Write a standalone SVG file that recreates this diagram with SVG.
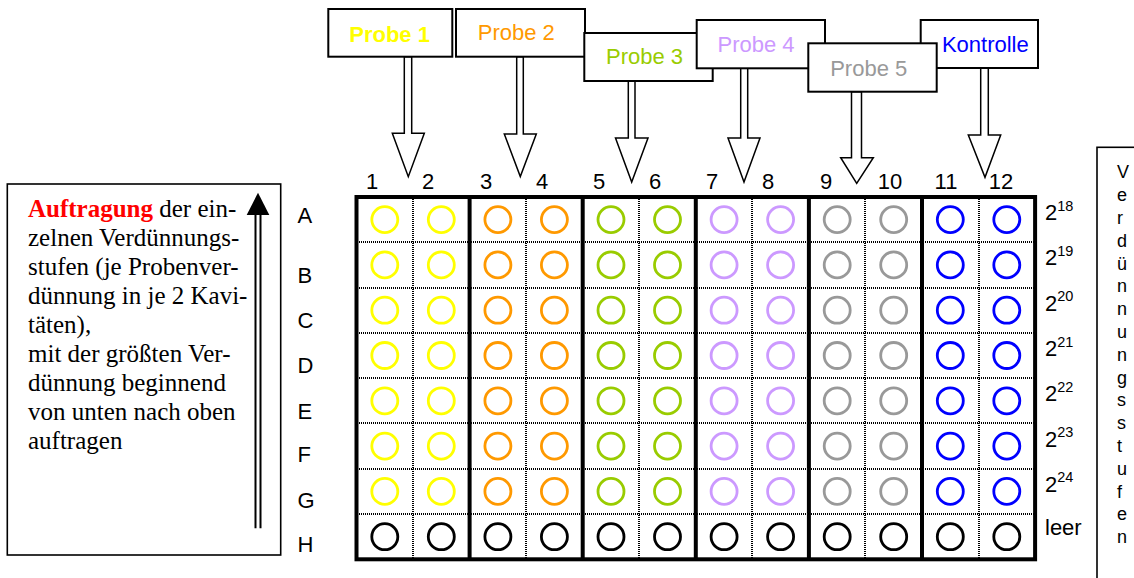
<svg xmlns="http://www.w3.org/2000/svg" width="1134" height="578" viewBox="0 0 1134 578">
  <style>
    .sans { font-family: "Liberation Sans", Arial, Helvetica, sans-serif; }
    .serif { font-family: "Liberation Serif", "Times New Roman", serif; }
    .lbl { font-size: 22px; fill: #000; }
    .box { fill: #fff; stroke: #000; stroke-width: 2; }
    .probe { font-size: 22px; text-anchor: middle; }
    .arrow { fill: #fff; stroke: #000; stroke-width: 1.5; stroke-linejoin: miter; }
    .dot { stroke: #000; stroke-width: 2; stroke-dasharray: 1 1; fill: none; shape-rendering: crispEdges; }
    .thick { stroke: #000; stroke-width: 4; fill: none; }
    .well { fill: none; stroke-width: 2.8; }
    .c1 { stroke: #ffff00; }
    .c2 { stroke: #ff9900; }
    .c3 { stroke: #99cc00; }
    .c4 { stroke: #cc99ff; }
    .c5 { stroke: #999999; }
    .c6 { stroke: #0000ff; }
    .c0 { stroke: #000000; }
  </style>
  <defs>
    <circle id="w" r="13" cx="0" cy="0"/>
  </defs>

  <rect width="1134" height="578" fill="#fff"/>

  <!-- block arrows from the sample labels down to the plate columns -->
  <g id="connectors">
    <polygon class="arrow" points="404.3,56.7 411.7,56.7 411.7,133.3 424.3,133.3 408.3,176.7 392.3,133.3 404.3,133.3"/>
    <polygon class="arrow" points="516.7,56.7 523.3,56.7 523.3,134 536.3,134 520.3,176.5 504.3,134 516.7,134"/>
    <polygon class="arrow" points="628.3,81 635,81 635,138 648,138 631.7,182 615.5,138 628.3,138"/>
    <polygon class="arrow" points="740.7,68.3 747.7,68.3 747.7,138 760,138 744,182 728,138 740.7,138"/>
    <polygon class="arrow" points="851.5,91.7 861.5,91.7 861.5,157.7 873.3,157.7 856.7,183.3 840.7,157.7 851.5,157.7"/>
    <polygon class="arrow" points="980.7,68 988.3,68 988.3,135 1000.7,135 985,177.3 968.3,135 980.7,135"/>
  </g>

  <!-- sample label boxes -->
  <g id="probe1">
    <rect class="box" x="328.3" y="9" width="124" height="47.7"/>
    <text class="sans probe" x="389.6" y="41.7" fill="#ffff00" font-weight="bold">Probe 1</text>
  </g>
  <g id="probe2">
    <rect class="box" x="456" y="9" width="129" height="47.7"/>
    <text class="sans probe" x="516.3" y="40" fill="#ff9900">Probe 2</text>
  </g>
  <g id="probe3">
    <rect class="box" x="584.3" y="33" width="128.4" height="48"/>
    <text class="sans probe" x="644.5" y="64" fill="#99cc00">Probe 3</text>
  </g>
  <g id="probe4">
    <rect class="box" x="696.7" y="20" width="128.3" height="48.3"/>
    <text class="sans probe" x="756" y="51.7" fill="#cc99ff">Probe 4</text>
  </g>
  <g id="kontrolle">
    <rect class="box" x="920.7" y="20" width="117.3" height="48"/>
    <text class="sans probe" x="985.3" y="51.7" fill="#0000ff">Kontrolle</text>
  </g>
  <g id="probe5">
    <rect class="box" x="808.3" y="43.3" width="128.4" height="48.4"/>
    <text class="sans probe" x="868.7" y="76" fill="#999999">Probe 5</text>
  </g>

  <!-- explanatory text box with upward arrow -->
  <g id="legend">
    <rect x="7.3" y="184" width="273.4" height="371" fill="#fff" stroke="#000" stroke-width="1.6"/>
    <g class="serif" font-size="25" fill="#000">
      <text x="28" y="216.5"><tspan fill="#ff0000" font-weight="bold">Auftragung</tspan> der ein-</text>
      <text x="28" y="245.5">zelnen Verdünnungs-</text>
      <text x="28" y="274.5">stufen (je Probenver-</text>
      <text x="28" y="303.5">dünnung in je 2 Kavi-</text>
      <text x="28" y="332.5">täten),</text>
      <text x="28" y="361.5">mit der größten Ver-</text>
      <text x="28" y="390.5">dünnung beginnend</text>
      <text x="28" y="419.5">von unten nach oben</text>
      <text x="28" y="448.5">auftragen</text>
    </g>
    <line x1="255.5" y1="214" x2="255.5" y2="528.3" stroke="#000" stroke-width="2"/>
    <line x1="260.5" y1="214" x2="260.5" y2="528.3" stroke="#000" stroke-width="2"/>
    <polygon points="246.7,215 269.3,215 258,192.7" fill="#000"/>
  </g>

  <!-- column numbers -->
  <g id="columns" class="sans lbl" text-anchor="middle">
    <text x="372" y="189">1</text>
    <text x="428" y="189">2</text>
    <text x="486" y="189">3</text>
    <text x="542" y="189">4</text>
    <text x="599" y="189">5</text>
    <text x="655" y="189">6</text>
    <text x="712" y="189">7</text>
    <text x="768" y="189">8</text>
    <text x="826" y="189">9</text>
    <text x="890" y="189">10</text>
    <text x="946" y="189">11</text>
    <text x="1001" y="189">12</text>
  </g>

  <!-- row letters -->
  <g id="rows" class="sans lbl">
    <text x="297.5" y="223">A</text>
    <text x="297.5" y="283">B</text>
    <text x="297.5" y="328">C</text>
    <text x="297.5" y="373">D</text>
    <text x="297.5" y="419">E</text>
    <text x="297.5" y="462">F</text>
    <text x="297.5" y="508">G</text>
    <text x="297.5" y="551.7">H</text>
  </g>

  <!-- dilution steps -->
  <g id="dilutions" class="sans lbl">
    <text x="1045" y="220">2<tspan dy="-9.5" font-size="14.5">18</tspan></text>
    <text x="1045" y="265.4">2<tspan dy="-9.5" font-size="14.5">19</tspan></text>
    <text x="1045" y="310.7">2<tspan dy="-9.5" font-size="14.5">20</tspan></text>
    <text x="1045" y="356">2<tspan dy="-9.5" font-size="14.5">21</tspan></text>
    <text x="1045" y="401.3">2<tspan dy="-9.5" font-size="14.5">22</tspan></text>
    <text x="1045" y="446.6">2<tspan dy="-9.5" font-size="14.5">23</tspan></text>
    <text x="1045" y="491.9">2<tspan dy="-9.5" font-size="14.5">24</tspan></text>
    <text x="1045" y="535">leer</text>
  </g>

  <!-- vertical caption box -->
  <g id="caption">
    <rect x="1097" y="147.3" width="60" height="450" fill="#fff" stroke="#000" stroke-width="1.6"/>
    <g class="sans" font-size="18" fill="#000">
      <text x="1117" y="178.3">V</text>
      <text x="1117" y="201.1">e</text>
      <text x="1117" y="223.9">r</text>
      <text x="1117" y="246.7">d</text>
      <text x="1117" y="269.5">ü</text>
      <text x="1117" y="292.3">n</text>
      <text x="1117" y="315.1">n</text>
      <text x="1117" y="337.9">u</text>
      <text x="1117" y="360.7">n</text>
      <text x="1117" y="383.5">g</text>
      <text x="1117" y="406.3">s</text>
      <text x="1117" y="429.1">s</text>
      <text x="1117" y="451.9">t</text>
      <text x="1117" y="474.7">u</text>
      <text x="1117" y="497.5">f</text>
      <text x="1117" y="520.3">e</text>
      <text x="1117" y="543.1">n</text>
    </g>
  </g>

  <!-- 96-well plate -->
  <g id="plate">
    <rect x="356.5" y="197" width="678.6" height="362.3" fill="#fff"/>
    <g class="dot">
      <line x1="357" y1="242" x2="1035" y2="242"/>
      <line x1="357" y1="288" x2="1035" y2="288"/>
      <line x1="357" y1="333" x2="1035" y2="333"/>
      <line x1="357" y1="378" x2="1035" y2="378"/>
      <line x1="357" y1="423" x2="1035" y2="423"/>
      <line x1="357" y1="469" x2="1035" y2="469"/>
      <line x1="357" y1="514" x2="1035" y2="514"/>
      <line x1="413" y1="197" x2="413" y2="559"/>
      <line x1="526" y1="197" x2="526" y2="559"/>
      <line x1="639" y1="197" x2="639" y2="559"/>
      <line x1="752" y1="197" x2="752" y2="559"/>
      <line x1="865" y1="197" x2="865" y2="559"/>
      <line x1="979" y1="197" x2="979" y2="559"/>
    </g>
    <g class="thick">
      <line x1="469.6" y1="197" x2="469.6" y2="559.3"/>
      <line x1="582.7" y1="197" x2="582.7" y2="559.3"/>
      <line x1="695.8" y1="197" x2="695.8" y2="559.3"/>
      <line x1="808.9" y1="197" x2="808.9" y2="559.3"/>
      <line x1="922" y1="197" x2="922" y2="559.3"/>
      <rect x="356.5" y="197" width="678.6" height="362.3"/>
    </g>

    <!-- wells: one group per sample pair, rows A-G coloured -->
    <g class="well c1">
      <use href="#w" x="384.8" y="219.6"/><use href="#w" x="441.3" y="219.6"/>
      <use href="#w" x="384.8" y="264.9"/><use href="#w" x="441.3" y="264.9"/>
      <use href="#w" x="384.8" y="310.2"/><use href="#w" x="441.3" y="310.2"/>
      <use href="#w" x="384.8" y="355.5"/><use href="#w" x="441.3" y="355.5"/>
      <use href="#w" x="384.8" y="400.8"/><use href="#w" x="441.3" y="400.8"/>
      <use href="#w" x="384.8" y="446.1"/><use href="#w" x="441.3" y="446.1"/>
      <use href="#w" x="384.8" y="491.4"/><use href="#w" x="441.3" y="491.4"/>
    </g>
    <g class="well c2">
      <use href="#w" x="497.9" y="219.6"/><use href="#w" x="554.4" y="219.6"/>
      <use href="#w" x="497.9" y="264.9"/><use href="#w" x="554.4" y="264.9"/>
      <use href="#w" x="497.9" y="310.2"/><use href="#w" x="554.4" y="310.2"/>
      <use href="#w" x="497.9" y="355.5"/><use href="#w" x="554.4" y="355.5"/>
      <use href="#w" x="497.9" y="400.8"/><use href="#w" x="554.4" y="400.8"/>
      <use href="#w" x="497.9" y="446.1"/><use href="#w" x="554.4" y="446.1"/>
      <use href="#w" x="497.9" y="491.4"/><use href="#w" x="554.4" y="491.4"/>
    </g>
    <g class="well c3">
      <use href="#w" x="611" y="219.6"/><use href="#w" x="667.5" y="219.6"/>
      <use href="#w" x="611" y="264.9"/><use href="#w" x="667.5" y="264.9"/>
      <use href="#w" x="611" y="310.2"/><use href="#w" x="667.5" y="310.2"/>
      <use href="#w" x="611" y="355.5"/><use href="#w" x="667.5" y="355.5"/>
      <use href="#w" x="611" y="400.8"/><use href="#w" x="667.5" y="400.8"/>
      <use href="#w" x="611" y="446.1"/><use href="#w" x="667.5" y="446.1"/>
      <use href="#w" x="611" y="491.4"/><use href="#w" x="667.5" y="491.4"/>
    </g>
    <g class="well c4">
      <use href="#w" x="724.1" y="219.6"/><use href="#w" x="780.6" y="219.6"/>
      <use href="#w" x="724.1" y="264.9"/><use href="#w" x="780.6" y="264.9"/>
      <use href="#w" x="724.1" y="310.2"/><use href="#w" x="780.6" y="310.2"/>
      <use href="#w" x="724.1" y="355.5"/><use href="#w" x="780.6" y="355.5"/>
      <use href="#w" x="724.1" y="400.8"/><use href="#w" x="780.6" y="400.8"/>
      <use href="#w" x="724.1" y="446.1"/><use href="#w" x="780.6" y="446.1"/>
      <use href="#w" x="724.1" y="491.4"/><use href="#w" x="780.6" y="491.4"/>
    </g>
    <g class="well c5">
      <use href="#w" x="837.2" y="219.6"/><use href="#w" x="893.7" y="219.6"/>
      <use href="#w" x="837.2" y="264.9"/><use href="#w" x="893.7" y="264.9"/>
      <use href="#w" x="837.2" y="310.2"/><use href="#w" x="893.7" y="310.2"/>
      <use href="#w" x="837.2" y="355.5"/><use href="#w" x="893.7" y="355.5"/>
      <use href="#w" x="837.2" y="400.8"/><use href="#w" x="893.7" y="400.8"/>
      <use href="#w" x="837.2" y="446.1"/><use href="#w" x="893.7" y="446.1"/>
      <use href="#w" x="837.2" y="491.4"/><use href="#w" x="893.7" y="491.4"/>
    </g>
    <g class="well c6">
      <use href="#w" x="950.3" y="219.6"/><use href="#w" x="1006.8" y="219.6"/>
      <use href="#w" x="950.3" y="264.9"/><use href="#w" x="1006.8" y="264.9"/>
      <use href="#w" x="950.3" y="310.2"/><use href="#w" x="1006.8" y="310.2"/>
      <use href="#w" x="950.3" y="355.5"/><use href="#w" x="1006.8" y="355.5"/>
      <use href="#w" x="950.3" y="400.8"/><use href="#w" x="1006.8" y="400.8"/>
      <use href="#w" x="950.3" y="446.1"/><use href="#w" x="1006.8" y="446.1"/>
      <use href="#w" x="950.3" y="491.4"/><use href="#w" x="1006.8" y="491.4"/>
    </g>
    <!-- row H: empty wells -->
    <g class="well c0">
      <use href="#w" x="384.8" y="536.7"/><use href="#w" x="441.3" y="536.7"/>
      <use href="#w" x="497.9" y="536.7"/><use href="#w" x="554.4" y="536.7"/>
      <use href="#w" x="611" y="536.7"/><use href="#w" x="667.5" y="536.7"/>
      <use href="#w" x="724.1" y="536.7"/><use href="#w" x="780.6" y="536.7"/>
      <use href="#w" x="837.2" y="536.7"/><use href="#w" x="893.7" y="536.7"/>
      <use href="#w" x="950.3" y="536.7"/><use href="#w" x="1006.8" y="536.7"/>
    </g>
  </g>
</svg>
